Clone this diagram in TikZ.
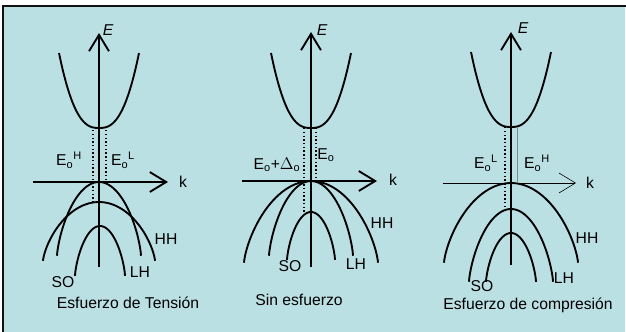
\documentclass[tikz,border=0pt]{standalone}
\usepackage{fontspec}
\setmainfont{Liberation Sans}
\usepackage{tikz}
\usetikzlibrary{arrows.meta}
\definecolor{panelbg}{HTML}{BBE0E3}
\definecolor{rim}    {HTML}{111111}
\definecolor{faint}  {HTML}{7A8C8E}
\tikzset{
  band/.style     = {draw=black, line width=1.6pt},
  axis/.style     = {draw=black, line width=1.6pt,
                     -{Straight Barb[length=14pt, width=17pt]}},
  thinaxis/.style = {draw=black, line width=0.5pt,
                     -{Straight Barb[length=14pt, width=17pt]}},
  gap/.style      = {draw=black, line width=1.2pt, dotted},
  thingap/.style  = {draw=faint, line width=0.5pt},
  lbl/.style      = {font=\fontsize{13.4}{15}\selectfont, text=black, inner sep=0pt},
}
% one conduction band (cx, bottom) and one valence band (cx, top, half width, depth)
\newcommand{\condband}[2]{\draw[band] plot[domain=-1:1, samples=40, smooth]
  ({#1+40*\x}, {#2-75*abs(\x)^2.6});}
\newcommand{\valband}[4]{\draw[band] plot[domain=1:179, samples=60, smooth]
  ({#1+#3*cos(\x)}, {#2+#4*(1-sin(\x)^1.4)});}

\begin{document}
\begin{tikzpicture}[x=0.03cm, y=-0.03cm]
  \useasboundingbox (0,0) rectangle (626,331);
  \fill[white] (0,0) rectangle (626,331);
  \fill[panelbg] (3,6) rectangle (625,335);
  \draw[rim, line width=1.7pt] (3,335) -- (3,6) -- (626,6);

  % tension
  \condband{99}{128}
  \valband{99}{182}{42}{74}
  \valband{99}{202}{56}{59}
  \valband{100}{226}{25}{50}
  \draw[gap] (93,130) -- (93,202);
  \draw[gap] (106,130) -- (106,182);
  \coordinate (e1b) at (99,267);
  \coordinate (e1t) at (99,33);
  \coordinate (k1l) at (33,182);
  \coordinate (k1r) at (168,182);
  \draw[axis] (e1b) -- (e1t);
  \draw[axis] (k1l) -- (k1r);
  \node[lbl, font=\fontsize{13.4}{15}\selectfont\itshape] (E1) at (108,30) {E};
  \node[lbl] (k1) at (183,182) {k};
  \node[lbl] (eh1) at (69,160) {E\textsubscript{o}\textsuperscript{H}};
  \node[lbl] (el1) at (123,160) {E\textsubscript{o}\textsuperscript{L}};
  \node[lbl] (hh1) at (166,239) {HH};
  \node[lbl] (lh1) at (140,272) {LH};
  \node[lbl] (so1) at (63,282) {SO};
  \node[lbl] (cap1) at (128,303) {Esfuerzo de Tensión};

  % unstrained
  \condband{311}{128}
  \valband{311}{181}{67}{82}
  \valband{311}{181}{42}{75}
  \valband{311}{212}{24}{48}
  \draw[gap] (304,128) -- (304,212);
  \draw[gap] (316,128) -- (316,181);
  \coordinate (e2b) at (311,267);
  \coordinate (e2t) at (311,32);
  \coordinate (k2l) at (242,181);
  \coordinate (k2r) at (377,181);
  \draw[axis] (e2b) -- (e2t);
  \draw[axis] (k2l) -- (k2r);
  \node[lbl, font=\fontsize{13.4}{15}\selectfont\itshape] (E2) at (322,30) {E};
  \node[lbl] (k2) at (393,180) {k};
  \node[lbl] (ed2) at (277,165) {E\textsubscript{o}+$\Delta$\textsubscript{o}};
  \node[lbl] (eo2) at (326,155) {E\textsubscript{o}};
  \node[lbl] (hh2) at (382,223) {HH};
  \node[lbl] (lh2) at (356,264) {LH};
  \node[lbl] (so2) at (290,266) {SO};
  \node[lbl] (cap2) at (299,300) {Sin esfuerzo};

  % compression
  \condband{511}{127}
  \valband{511}{183}{67}{80}
  \valband{511}{209}{42}{73}
  \valband{511}{233}{25}{49}
  \draw[gap] (505,127) -- (505,209);
  \draw[thingap] (517,127) -- (517,183);
  \coordinate (e3b) at (511,265);
  \coordinate (e3t) at (511,32);
  \coordinate (k3l) at (443,183);
  \coordinate (k3r) at (576,183);
  \draw[axis] (e3b) -- (e3t);
  \draw[thinaxis] (k3l) -- (k3r);
  \node[lbl, font=\fontsize{13.4}{15}\selectfont\itshape] (E3) at (523,28) {E};
  \node[lbl] (k3) at (590,183) {k};
  \node[lbl] (el3) at (486,163) {E\textsubscript{o}\textsuperscript{L}};
  \node[lbl] (eh3) at (537,163) {E\textsubscript{o}\textsuperscript{H}};
  \node[lbl] (hh3) at (587,238) {HH};
  \node[lbl] (lh3) at (564,278) {LH};
  \node[lbl] (so3) at (482,286) {SO};
  \node[lbl] (cap3) at (528,305) {Esfuerzo de compresión};
\end{tikzpicture}
\end{document}
